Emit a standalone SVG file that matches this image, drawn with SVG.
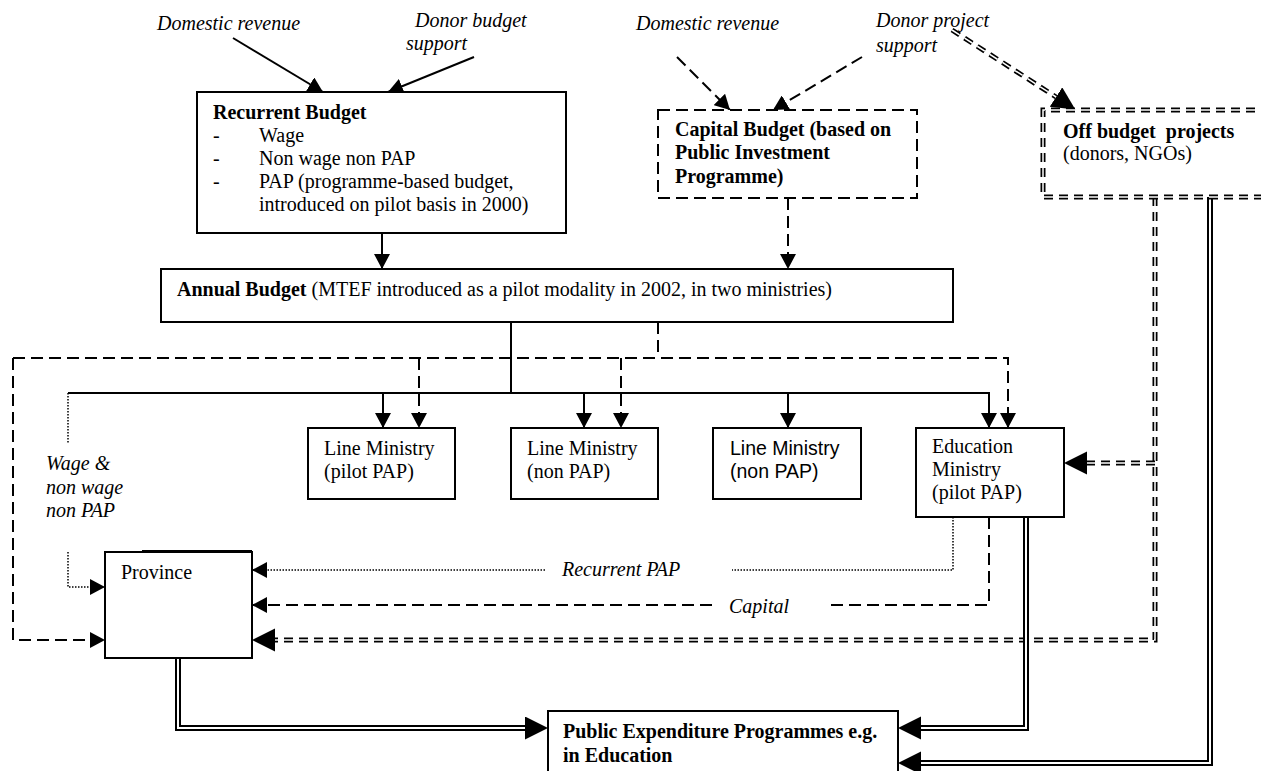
<svg xmlns="http://www.w3.org/2000/svg" width="1261" height="771" viewBox="0 0 1261 771">
<style>
.t{font-family:"Liberation Serif","Times New Roman",serif;font-size:20px;fill:#000}
.i{font-style:italic}
.b{font-weight:bold}
.s{font-family:"Liberation Sans",Arial,sans-serif;font-size:19.5px;fill:#000}
.box{fill:#fff;stroke:#000;stroke-width:2}
.dbox{fill:#fff;stroke:#000;stroke-width:2;stroke-dasharray:12 6}
.ln{fill:none;stroke:#000;stroke-width:2}
.da{fill:none;stroke:#000;stroke-width:2;stroke-dasharray:12 6}
.dt{fill:none;stroke:#000;stroke-width:1.5;stroke-dasharray:1.5 1.5}
.dblk{fill:none;stroke:#000;stroke-width:6}
.dwht{fill:none;stroke:#fff;stroke-width:2}
.ddblk{fill:none;stroke:#000;stroke-width:5;stroke-dasharray:9 6}
.ddwht{fill:none;stroke:#fff;stroke-width:1.5;stroke-dasharray:9 6}
</style>
<defs>
<marker id="a" markerUnits="userSpaceOnUse" markerWidth="16" markerHeight="16" refX="15" refY="8" orient="auto">
<path d="M0,0 L15,8 L0,16 z" fill="#000"/>
</marker>
<marker id="big" markerUnits="userSpaceOnUse" markerWidth="24" markerHeight="24" refX="0" refY="11.5" orient="auto">
<path d="M0,0 L23,11.5 L0,23 z" fill="#000"/>
</marker>
</defs>
<rect width="1261" height="771" fill="#fff"/>

<g id="labels">
<text class="t i" x="157" y="30">Domestic revenue</text>
<text class="t i" x="415" y="27">Donor budget</text>
<text class="t i" x="406" y="50">support</text>
<text class="t i" x="636" y="30">Domestic revenue</text>
<text class="t i" x="876" y="27">Donor project</text>
<text class="t i" x="876" y="52">support</text>
<text class="t i" x="46" y="470">Wage &amp;</text>
<text class="t i" x="46" y="494">non wage</text>
<text class="t i" x="46" y="517">non PAP</text>
<text class="t i" x="562" y="576">Recurrent PAP</text>
<text class="t i" x="729" y="613">Capital</text>
</g>

<g id="connectors">
<path class="ln" d="M233,38 L323,92" marker-end="url(#a)"/>
<path class="ln" d="M474,57 L388,92" marker-end="url(#a)"/>
<path class="ln" d="M382,233 V269" marker-end="url(#a)"/>
<path class="da" d="M677,57 L730,110" marker-end="url(#a)"/>
<path class="da" d="M862,57 L773,110" marker-end="url(#a)"/>
<path class="da" d="M788,198 V269" marker-end="url(#a)"/>
<path class="ln" d="M511,322 V393"/>
<path class="ln" d="M68,393 H989 V428" marker-end="url(#a)"/>
<path class="ln" d="M383,393 V428" marker-end="url(#a)"/>
<path class="ln" d="M584,393 V428" marker-end="url(#a)"/>
<path class="ln" d="M788,393 V428" marker-end="url(#a)"/>
<path class="da" d="M658,322 V358"/>
<path class="da" d="M13,358 H1008 V428" marker-end="url(#a)"/>
<path class="da" d="M419,358 V428" marker-end="url(#a)"/>
<path class="da" d="M621,358 V428" marker-end="url(#a)"/>
<path class="da" d="M13,358 V640 H105" marker-end="url(#a)"/>
<path class="dt" d="M68,393 V443"/>
<path class="dt" d="M68,552 V587 H105" marker-end="url(#a)"/>
<path class="dt" d="M953,517 V570 H732"/>
<path class="dt" d="M545,570 H252" marker-end="url(#a)"/>
<path class="da" d="M989,517 V605 H825"/>
<path class="da" d="M712,605 H252" marker-end="url(#a)"/>
<path class="ddblk" d="M952,30 L1056,97" marker-end="url(#big)"/>
<path class="ddwht" d="M952,30 L1056,97"/>
<path class="ddblk" d="M1155,197 V640 H275" marker-end="url(#big)"/>
<path class="ddwht" d="M1155,197 V640 H275"/>
<path class="ddblk" d="M1155,463 H1087" marker-end="url(#big)"/>
<path class="ddwht" d="M1155,463 H1087"/>
<path class="dblk" d="M178,658 V728 H525" marker-end="url(#big)"/>
<path class="dwht" d="M178,658 V728 H525"/>
<path class="dblk" d="M1026,517 V728 H921" marker-end="url(#big)"/>
<path class="dwht" d="M1026,517 V728 H921"/>
<path class="dblk" d="M1210,197 V763 H921" marker-end="url(#big)"/>
<path class="dwht" d="M1210,197 V763 H921"/>
</g>

<g id="recurrent">
<rect class="box" x="197" y="92" width="369" height="141"/>
<text class="t b" x="213" y="119">Recurrent Budget</text>
<text class="t" x="213" y="142">-</text><text class="t" x="259" y="142">Wage</text>
<text class="t" x="213" y="165">-</text><text class="t" x="259" y="165">Non wage non PAP</text>
<text class="t" x="213" y="188">-</text><text class="t" x="259" y="188">PAP (programme-based budget,</text>
<text class="t" x="259" y="211">introduced on pilot basis in 2000)</text>
</g>

<g id="capital">
<rect class="dbox" x="658" y="110" width="259" height="88"/>
<text class="t b" x="675" y="136">Capital Budget (based on</text>
<text class="t b" x="675" y="159">Public Investment</text>
<text class="t b" x="675" y="183">Programme)</text>
</g>

<g id="offbudget">
<path class="ddblk" d="M1270,110 H1043 V197 H1270"/>
<path class="ddwht" d="M1270,110 H1043 V197 H1270"/>
<text class="t b" x="1063" y="138">Off budget&#160; projects</text>
<text class="t" x="1063" y="160">(donors, NGOs)</text>
</g>

<g id="annual">
<rect class="box" x="161" y="269" width="792" height="53"/>
<text class="t" x="177" y="296"><tspan class="b">Annual Budget</tspan> (MTEF introduced as a pilot modality in 2002, in two ministries)</text>
</g>

<g id="lm1">
<rect class="box" x="308" y="428" width="147" height="71"/>
<text class="t" x="324" y="455">Line Ministry</text>
<text class="t" x="324" y="478">(pilot PAP)</text>
</g>

<g id="lm2">
<rect class="box" x="511" y="428" width="147" height="71"/>
<text class="t" x="527" y="455">Line Ministry</text>
<text class="t" x="527" y="478">(non PAP)</text>
</g>

<g id="lm3">
<rect class="box" x="713" y="428" width="148" height="71"/>
<text class="s" x="730" y="455">Line Ministry</text>
<text class="s" x="730" y="478">(non PAP)</text>
</g>

<g id="education">
<rect class="box" x="916" y="428" width="148" height="89"/>
<text class="t" x="932" y="453">Education</text>
<text class="t" x="932" y="476">Ministry</text>
<text class="t" x="932" y="499">(pilot PAP)</text>
</g>

<g id="province">
<rect class="box" x="105" y="552" width="147" height="106"/>
<line x1="142" y1="551" x2="252" y2="551" stroke="#000" stroke-width="2"/>
<text class="t" x="121" y="579">Province</text>
</g>

<g id="pep">
<rect class="box" x="548" y="711" width="350" height="80"/>
<text class="t b" x="563" y="738">Public Expenditure Programmes e.g.</text>
<text class="t b" x="563" y="762">in Education</text>
</g>
</svg>
